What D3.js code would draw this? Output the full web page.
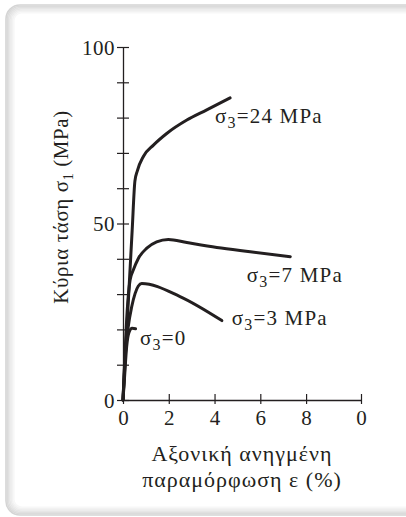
<!DOCTYPE html>
<html>
<head>
<meta charset="utf-8">
<script src="https://cdn.jsdelivr.net/npm/d3@7"></script>
<style>
  body { margin: 0; background: #fff; }
  svg { display: block; }
  text { font-family: "Liberation Serif", "DejaVu Serif", serif; fill: #231f20; }
</style>
</head>
<body>
<script>
// curve data: strain ε (%) vs principal stress σ1 (MPa)
const curve24 = [[0,0],[0.2,24],[0.4,48],[0.52,62],[0.63,65],[0.89,69],[1.33,72.2],[1.91,75.5],[2.79,79.3],[3.66,82.2],[4.68,85.6]]
const curve7  = [[0,0],[0.08,12],[0.18,25],[0.31,34],[0.45,36.8],[0.67,40.1],[1.04,43],[1.47,44.8],[1.98,45.5],[2.79,44.6],[4.1,43.2],[5.56,42],[7.31,40.6]]
const curve3  = [[0,0],[0.08,11],[0.23,20.8],[0.38,26.4],[0.53,30.2],[0.67,32.3],[0.82,33],[2.49,29.3],[4.32,22.5]]
const curve0  = [[0,0],[0.06,5.7],[0.16,15.1],[0.25,18.9],[0.4,20.3],[0.55,20.2]]
const curves  = [curve24, curve7, curve3, curve0]

const labels = [
  {sub: "3", text: "=24 MPa", x: 4.02, y: 78.5},
  {sub: "3", text: "=7 MPa",  x: 5.41, y: 33.5},
  {sub: "3", text: "=3 MPa",  x: 4.75, y: 21.2},
  {sub: "3", text: "=0",      x: 0.74, y: 15.6}
]

const xTickValues = [0, 2, 4, 6, 8, 10.4]
const xTickLabels = ["0", "2", "4", "6", "8", "0"]
const yTickValues = [0, 10, 20, 30, 40, 50, 60, 70, 80, 90, 100]
const yTickLabels = {0: "0", 50: "50", 100: "100"}

const W = 406, H = 517

const svg = d3.select("body").append("svg")
  .attr("width", W)
  .attr("height", H)

// soft grey frame
const shades = ["#d4d4d4", "#dadada", "#e0e0e0", "#e6e6e6", "#ececec", "#f2f2f2", "#f7f7f7"]
shades.forEach((c, i) => {
  svg.append("rect")
    .attr("x", 6 + i * 1.3)
    .attr("y", 5 + i * 1.3)
    .attr("width", 460)
    .attr("height", 510 - i * 2.6)
    .attr("rx", 14 - i)
    .attr("fill", "none")
    .attr("stroke", c)
    .attr("stroke-width", 1.6)
})

const x = d3.scaleLinear().domain([0, 10.4]).range([123, 361])
const y = d3.scaleLinear().domain([0, 100]).range([400, 47])

// y axis
const yAxis = svg.append("g")
  .attr("transform", `translate(${x(0)},0)`)
  .call(d3.axisLeft(y).tickValues(yTickValues).tickSize(0).tickFormat(""))
yAxis.select(".domain").attr("stroke", "#231f20").attr("stroke-width", 1.3)
yAxis.selectAll(".tick line").remove()
yAxis.selectAll(".tick").append("line")
  .attr("x1", -6).attr("x2", 6)
  .attr("stroke", "#231f20").attr("stroke-width", 1.2)
yAxis.selectAll(".tick").append("text")
  .attr("x", -8)
  .attr("dy", "0.35em")
  .attr("text-anchor", "end")
  .style("font-size", "21px")
  .style("letter-spacing", "0.5px")
  .style("font-family", "'Liberation Serif', serif")
  .attr("fill", "#231f20")
  .text(d => yTickLabels[d] || "")

// x axis
const xAxis = svg.append("g")
  .attr("transform", `translate(0,${y(0)})`)
  .call(d3.axisBottom(x).tickValues(xTickValues).tickSize(0).tickFormat(""))
xAxis.select(".domain").attr("stroke", "#231f20").attr("stroke-width", 1.3)
xAxis.selectAll(".tick line").remove()
xAxis.selectAll(".tick").append("line")
  .attr("y1", -6).attr("y2", 4)
  .attr("stroke", "#231f20").attr("stroke-width", 1.2)
xAxis.selectAll(".tick").append("text")
  .attr("y", 25)
  .attr("text-anchor", "middle")
  .style("font-size", "21px")
  .style("font-family", "'Liberation Serif', serif")
  .attr("fill", "#231f20")
  .text((d, i) => xTickLabels[i])

// axis titles
const yTitle = svg.append("text")
  .attr("transform", `translate(68,207) rotate(-90)`)
  .attr("text-anchor", "middle")
  .style("font-size", "21px")
  .style("letter-spacing", "0.6px")
yTitle.append("tspan").text("Κύρια τάση σ")
yTitle.append("tspan").attr("dy", 5).style("font-size", "14px").text("1")
yTitle.append("tspan").attr("dy", -5).text(" (MPa)")

svg.append("text")
  .attr("x", 242).attr("y", 461)
  .attr("text-anchor", "middle")
  .style("font-size", "22px")
  .style("letter-spacing", "1px")
  .text("Αξονική ανηγμένη")
svg.append("text")
  .attr("x", 242).attr("y", 487)
  .attr("text-anchor", "middle")
  .style("font-size", "22px")
  .style("letter-spacing", "1px")
  .text("παραμόρφωση ε (%)")

// curves
const line = d3.line()
  .x(d => x(d[0]))
  .y(d => y(d[1]))
  .curve(d3.curveMonotoneX)

svg.selectAll("path.curve")
  .data(curves)
  .enter()
  .append("path")
  .attr("class", "curve")
  .attr("d", line)
  .attr("fill", "none")
  .attr("stroke", "#231f20")
  .attr("stroke-width", 3)
  .attr("stroke-linecap", "round")
  .attr("stroke-linejoin", "round")

// curve labels
labels.forEach(l => {
  const t = svg.append("text")
    .attr("x", x(l.x))
    .attr("y", y(l.y))
    .style("font-size", "21px")
    .style("letter-spacing", "1.2px")
  t.append("tspan").text("σ")
  t.append("tspan").attr("dy", 5).style("font-size", "16px").text(l.sub)
  t.append("tspan").attr("dy", -5).text(l.text)
})
</script>
</body>
</html>
